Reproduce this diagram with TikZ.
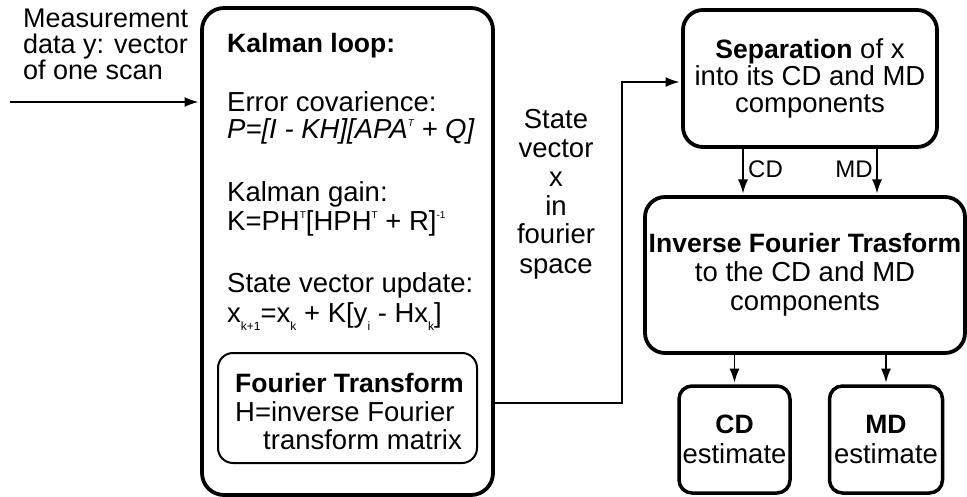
\documentclass[tikz,border=0pt]{standalone}
\usepackage{fontspec}
\setmainfont{Liberation Sans}[BoldFeatures={Scale=0.965}]
\usetikzlibrary{arrows.meta}
\newcommand\mysup[1]{\raisebox{0.46em}{\fontsize{10}{10}\selectfont #1}}
\newcommand\mysub[1]{\raisebox{-0.26em}{\fontsize{12}{12}\selectfont #1}}
\begin{document}
\begin{tikzpicture}[x=1pt,y=-1pt,
  font=\fontsize{27.5}{29}\selectfont,
  bigbox/.style={draw, line width=3.8pt, rounded corners=22pt, inner sep=0pt, align=center},
  smallbox/.style={draw, line width=3.5pt, rounded corners=13pt, inner sep=0pt, align=center},
  innerbox/.style={draw, line width=2pt, rounded corners=15pt, inner sep=0pt},
  txt/.style={anchor=base west, inner sep=0pt},
  conn/.style={line width=1.6pt, -{Latex[length=14pt,width=10pt]}, shorten >=1.6pt},
  lab/.style={font=\fontsize{24}{24}\selectfont, inner sep=0pt}]
\useasboundingbox (0,0) rectangle (967,497);

% boxes
\node[bigbox, minimum width=291pt, minimum height=487pt] (kal) at (347.5,251.5) {};
\node[innerbox, minimum width=259pt, minimum height=110pt] (four) at (347.5,408) {};
\node[bigbox, rounded corners=20pt, minimum width=254pt, minimum height=137pt,
      font=\fontsize{27.5}{27}\selectfont] (sep) at (810,78.5)
  {\textbf{Separation} of x\\into its CD and MD\\components};
\node[bigbox, rounded corners=20pt, minimum width=320pt, minimum height=156pt] (inv) at (805,275)
  {\textbf{Inverse Fourier Trasform}\\to the CD and MD\\components};
\node[smallbox, minimum width=111pt, minimum height=107pt,
      font=\fontsize{27.5}{30}\selectfont] (cd) at (734.5,439.5) {\textbf{CD}\\estimate};
\node[smallbox, minimum width=113pt, minimum height=107pt,
      font=\fontsize{27.5}{30}\selectfont] (md) at (886,439.5) {\textbf{MD}\\estimate};

% left input text
\node[txt, align=left, font=\fontsize{27}{26}\selectfont] (meas) at (23,80)
  {Measurement\\data y: vector\\of one scan};

% Kalman text
\node[txt] (k1) at (227,53) {\bfseries Kalman loop:};
\node[txt] (k2) at (227,112) {Error covarience:};
\node[txt] (k3) at (227,139) {\itshape P=[I - KH][APA\mysup{T} + Q]};
\node[txt] (k4) at (227,202) {Kalman gain:};
\node[txt] (k5) at (227,231) {K=PH\mysup{T}[HPH\mysup{T} + R]\mysup{-1}};
\node[txt] (k6) at (227,292) {State vector update:};
\node[txt] (k7) at (227,323) {x\mysub{k+1}=x\mysub{k} + K[y\mysub{i} - Hx\mysub{k}]};
\node[txt] (f1) at (235,392) {\bfseries Fourier Transform};
\node[txt] (f2) at (235,421) {H=inverse Fourier};
\node[txt] (f3) at (263,449) {transform matrix};

% state vector label
\node[anchor=base, align=center, inner sep=0pt] (sv) at (556,273)
  {State\\vector\\x\\in\\fourier\\space};

% connectors
\coordinate (start) at (10,102);
\draw[conn] (start) -- (kal.west |- start);

\coordinate (turn) at (622,403);
\draw[conn] (kal.east |- turn) -- (turn) |- ([yshift=-3.5pt]sep.west);

\coordinate (cdx) at (743,0);
\coordinate (mdx) at (877,0);
\draw[conn] (sep.south -| cdx) -- (inv.north -| cdx);
\draw[conn] (sep.south -| mdx) -- (inv.north -| mdx);
\node[lab, anchor=base west] (cdl) at (748,178) {CD};
\node[lab, anchor=base east] (mdl) at (873,178) {MD};

\draw[conn] (inv.south -| cd.north) -- (cd.north);
\draw[conn] (inv.south -| md.north) -- (md.north);
\end{tikzpicture}
\end{document}
